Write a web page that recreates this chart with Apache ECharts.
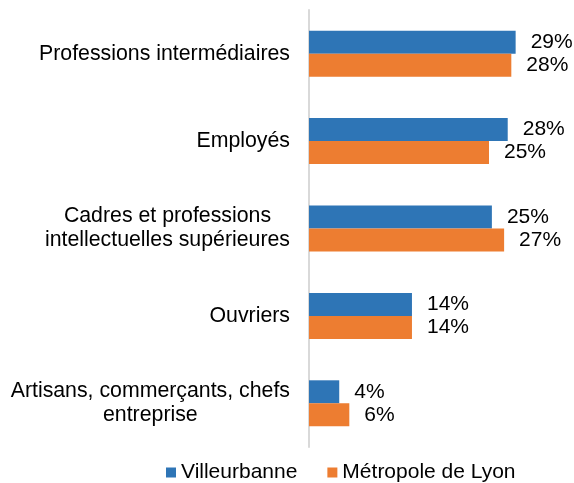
<!DOCTYPE html>
<html>
<head>
<meta charset="utf-8">
<script src="https://cdn.jsdelivr.net/npm/echarts@6/dist/echarts.min.js"></script>
<style>
    html, body { margin: 0; padding: 0; background: #fff; }
    #chart { width: 574px; height: 483px; }
</style>
</head>
<body>
<div id="chart"></div>
<script>
// Categories, top to bottom
var categories = [
    "Professions intermédiaires",
    "Employés",
    "Cadres et professions\nintellectuelles supérieures",
    "Ouvriers",
    "Artisans, commerçants, chefs\nentreprise"
];
var seriesNames = ["Villeurbanne", "Métropole de Lyon"];
// Shares in %
var villeurbanne = [28.7, 27.6, 25.4, 14.3, 4.2];
var metropole = [28.1, 25.0, 27.1, 14.3, 5.6];

var FONT = "'Liberation Sans', Arial, sans-serif";

/**
 * Builds one bar series with a rounded percentage label.
 */
function makeSeries(name, data, color) {
    return {
        name: name,
        type: "bar",
        data: data,
        barWidth: 23,
        barGap: "0%",
        itemStyle: { color: color },
        label: {
            show: true,
            position: "right",
            distance: 15,
            color: "#000",
            fontFamily: FONT,
            fontSize: 21,
            formatter: function (p) { return Math.round(p.value) + "%"; }
        }
    };
}

var chart = echarts.init(document.getElementById("chart"), null, { renderer: "canvas" });

var options = {
    animation: false,
    backgroundColor: "#fff",
    grid: {
        left: 309,
        right: 49,
        top: 10,
        bottom: 36
    },
    legend: {
        data: seriesNames,
        left: 166,
        top: 462,
        padding: 0,
        itemWidth: 10,
        itemHeight: 10,
        itemGap: 30,
        icon: "rect",
        textStyle: { color: "#000", fontFamily: FONT, fontSize: 21 }
    },
    xAxis: {
        type: "value",
        min: 0,
        max: 30,
        show: false,
        splitLine: { show: false }
    },
    yAxis: {
        type: "category",
        inverse: true,
        data: categories,
        axisLine: { show: true, lineStyle: { color: "#D9D9D9", width: 2 } },
        axisTick: { show: false },
        axisLabel: {
            margin: 19,
            formatter: function (v) {
                // center each line inside the right-aligned block
                return v.split("\n").map(function (l) { return "{c|" + l + "}"; }).join("\n");
            },
            rich: {
                c: {
                    align: "center",
                    color: "#000",
                    fontFamily: FONT,
                    fontSize: 21.3,
                    lineHeight: 24
                }
            }
        }
    },
    series: [
        makeSeries(seriesNames[0], villeurbanne, "#2E75B6"),
        makeSeries(seriesNames[1], metropole, "#ED7D31")
    ]
};

chart.setOption(options);
</script>
</body>
</html>
